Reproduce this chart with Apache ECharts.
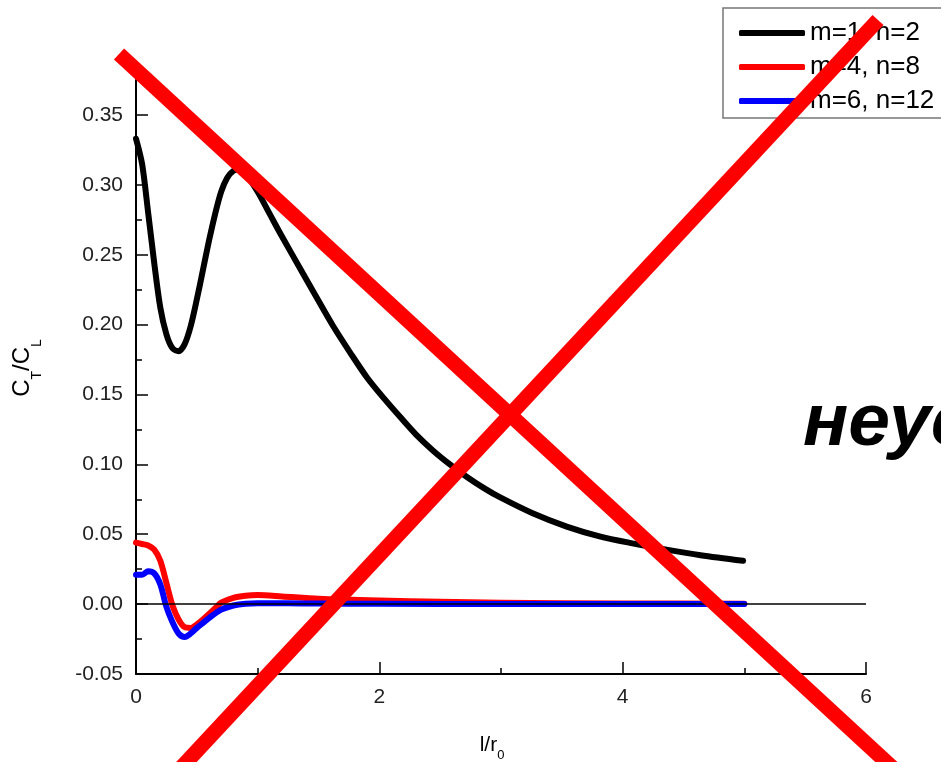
<!DOCTYPE html>
<html>
<head>
<meta charset="utf-8">
<script src="https://cdn.jsdelivr.net/npm/echarts@6/dist/echarts.min.js"></script>
<style>
  html, body { margin: 0; padding: 0; background: #fff; }
  #chart { width: 941px; height: 762px; }
</style>
</head>
<body>
<div id="chart"></div>
<script>
// Series names
const seriesNames = ['m=1, n=2', 'm=4, n=8', 'm=6, n=12'];

// m=1, n=2
const xBlack = [0, 0.05, 0.1, 0.15, 0.2, 0.25, 0.3, 0.35, 0.4, 0.45, 0.5, 0.55, 0.6, 0.65, 0.7, 0.75, 0.8, 0.85, 0.9, 1.0, 1.1, 1.2, 1.35, 1.5, 1.62, 1.76, 1.9, 2.04, 2.17, 2.3, 2.44, 2.58, 2.72, 2.86, 2.99, 3.26, 3.54, 3.81, 4.08, 4.36, 4.64, 4.99];
const yBlack = [0.333, 0.315, 0.280, 0.244, 0.212, 0.193, 0.183, 0.181, 0.186, 0.199, 0.218, 0.239, 0.260, 0.279, 0.295, 0.305, 0.310, 0.311, 0.308, 0.295, 0.279, 0.263, 0.240, 0.217, 0.199, 0.180, 0.162, 0.147, 0.134, 0.1215, 0.110, 0.100, 0.091, 0.083, 0.0765, 0.065, 0.0555, 0.0485, 0.0435, 0.039, 0.035, 0.031];

// m=4, n=8
const xRed = [0, 0.05, 0.1, 0.15, 0.2, 0.25, 0.3, 0.35, 0.4, 0.45, 0.5, 0.55, 0.6, 0.65, 0.7, 0.8, 0.9, 1.0, 1.2, 1.5, 2.0, 2.5, 3.0, 4.0, 5.0];
const yRed = [0.044, 0.043, 0.042, 0.039, 0.031, 0.015, -0.001, -0.011, -0.0165, -0.017, -0.0145, -0.011, -0.007, -0.003, 0.001, 0.0045, 0.006, 0.0065, 0.0055, 0.0038, 0.0025, 0.0017, 0.001, 0.0005, 0.0003];

// m=6, n=12
const xBlue = [0, 0.05, 0.1, 0.15, 0.2, 0.25, 0.3, 0.35, 0.4, 0.45, 0.5, 0.55, 0.6, 0.7, 0.8, 0.9, 1.0, 1.25, 1.5, 2.0, 3.0, 5.0];
const yBlue = [0.021, 0.021, 0.0235, 0.022, 0.014, -0.002, -0.013, -0.021, -0.0235, -0.021, -0.017, -0.0135, -0.010, -0.004, -0.001, 0.0003, 0.0006, 0.0006, 0.0004, 0.0002, 0.0001, 0.0];

// Axis ticks
const xMajorTicks = [0, 2, 4, 6];
const yMajorTicks = [-0.05, 0, 0.05, 0.10, 0.15, 0.20, 0.25, 0.30, 0.35];

const pairs = (xs, ys) => xs.map((x, i) => [x, ys[i]]);

const FONT = '"Liberation Sans", Arial, sans-serif';
const chart = echarts.init(document.getElementById('chart'), null, { renderer: 'canvas' });

const minorXAxis = {
  type: 'value', min: 0, max: 6, interval: 1, position: 'bottom',
  axisLine: { onZero: false, lineStyle: { color: '#000', width: 2 } },
  axisTick: { inside: true, length: 6, lineStyle: { color: '#000', width: 1.5 } },
  axisLabel: { show: false },
  splitLine: { show: false }
};
const majorXAxis = {
  type: 'value', min: 0, max: 6, interval: 2, position: 'bottom',
  axisLine: { show: false, onZero: false },
  axisTick: { inside: true, length: 12, customValues: xMajorTicks, lineStyle: { color: '#000', width: 1.5 } },
  axisLabel: { margin: 13, color: '#222', fontSize: 21, fontFamily: FONT, customValues: xMajorTicks },
  splitLine: { show: false }
};
const minorYAxis = {
  type: 'value', min: -0.05, max: 0.375, interval: 0.025, position: 'left',
  axisLine: { onZero: false, lineStyle: { color: '#000', width: 2 } },
  axisTick: { inside: true, length: 6, lineStyle: { color: '#000', width: 1.5 } },
  axisLabel: { show: false },
  splitLine: { show: false }
};
const majorYAxis = {
  type: 'value', min: -0.05, max: 0.375, interval: 0.05, position: 'left',
  axisLine: { show: false, onZero: false },
  axisTick: { inside: true, length: 12, customValues: yMajorTicks, lineStyle: { color: '#000', width: 1.5 } },
  axisLabel: {
    margin: 13, color: '#222', fontSize: 21, fontFamily: FONT,
    customValues: yMajorTicks,
    formatter: v => v.toFixed(2)
  },
  splitLine: { show: false }
};

const lineSeries = (name, data, color) => ({
  name, type: 'line', data, xAxisIndex: 0, yAxisIndex: 0,
  showSymbol: false, symbol: 'none', smooth: 0.3,
  lineStyle: { color, width: 6, cap: 'round', join: 'round' },
  itemStyle: { color },
  z: 3
});

const option = {
  animation: false,
  backgroundColor: '#fff',
  grid: { left: 136, right: 75, top: 80, bottom: 88, containLabel: false },
  xAxis: [minorXAxis, majorXAxis],
  yAxis: [minorYAxis, majorYAxis],
  legend: {
    data: seriesNames,
    orient: 'vertical',
    left: 723, top: 8,
    padding: [12, 30, 4, 16],
    itemGap: 8,
    itemWidth: 66, itemHeight: 6,
    icon: 'roundRect',
    borderColor: '#777', borderWidth: 1.5,
    backgroundColor: '#fff',
    textStyle: { color: '#000', fontSize: 26, fontFamily: FONT, lineHeight: 25 }
  },
  series: [
    {
      type: 'line', data: [], xAxisIndex: 0, yAxisIndex: 0, z: 2,
      markLine: {
        silent: true, symbol: 'none', animation: false,
        label: { show: false },
        lineStyle: { color: '#000', width: 1.5, type: 'solid' },
        data: [{ yAxis: 0 }]
      }
    },
    lineSeries(seriesNames[0], pairs(xBlack, yBlack), '#000000'),
    lineSeries(seriesNames[1], pairs(xRed, yRed), '#ff0000'),
    lineSeries(seriesNames[2], pairs(xBlue, yBlue), '#0000ff')
  ],
  graphic: [
    {
      type: 'text', x: 22, y: 368, rotation: Math.PI / 2, z: 10,
      style: {
        text: '{a|C}{s|T}{a|/C}{s|L}',
        align: 'center', verticalAlign: 'middle',
        rich: {
          a: { fontSize: 24, fontFamily: FONT, color: '#222', lineHeight: 24, verticalAlign: 'top' },
          s: { fontSize: 14, fontFamily: FONT, color: '#222', lineHeight: 14, verticalAlign: 'top', padding: [20, 0, 0, 0] }
        }
      }
    },
    {
      type: 'text', x: 492, y: 745, z: 10,
      style: {
        text: '{a|l/r}{s|0}',
        align: 'center', verticalAlign: 'middle',
        rich: {
          a: { fontSize: 21, fontFamily: FONT, color: '#222', lineHeight: 21, verticalAlign: 'top' },
          s: { fontSize: 13, fontFamily: FONT, color: '#222', lineHeight: 13, verticalAlign: 'top', padding: [14, 0, 0, 0] }
        }
      }
    },
    {
      type: 'text', x: 803, y: 424, z: 10,
      style: {
        text: 'неустойчивость',
        font: 'italic bold 75px ' + FONT,
        fill: '#000',
        align: 'left', verticalAlign: 'middle'
      }
    },
    {
      type: 'line', z: 100,
      shape: { x1: 119, y1: 54, x2: 895, y2: 770 },
      style: { stroke: '#ff0000', lineWidth: 15, lineCap: 'butt' }
    },
    {
      type: 'line', z: 100,
      shape: { x1: 878, y1: 20, x2: 179, y2: 770 },
      style: { stroke: '#ff0000', lineWidth: 15, lineCap: 'butt' }
    }
  ]
};

chart.setOption(option);
</script>
</body>
</html>
